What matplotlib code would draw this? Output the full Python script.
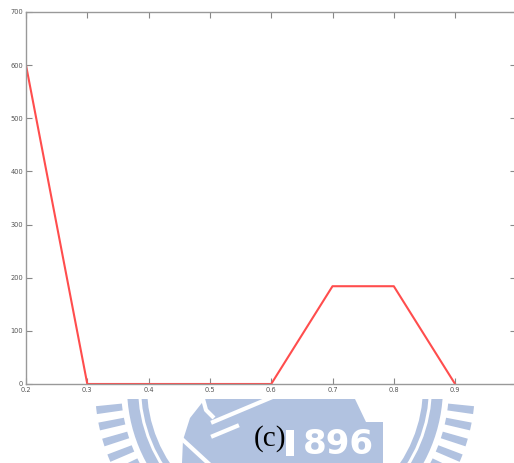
import numpy as np
import matplotlib.pyplot as plt
from matplotlib.patches import Rectangle, Wedge, Polygon

# data
x = [0.2, 0.3, 0.4, 0.5, 0.6, 0.7, 0.8, 0.9]
y = [600, 0, 0, 0, 0, 184, 184, 0]
xticks = [0.2, 0.3, 0.4, 0.5, 0.6, 0.7, 0.8, 0.9, 1.0]
xticklabels = ['0.2', '0.3', '0.4', '0.5', '0.6', '0.7', '0.8', '0.9', '']
yticks = [0, 100, 200, 300, 400, 500, 600, 700]

W, H = 514, 463
fig = plt.figure(figsize=(W / 100, H / 100), dpi=100)

# page watermark, pixel coords (y downwards)
bg = fig.add_axes([0, 0, 1, 1])
bg.set_xlim(0, W)
bg.set_ylim(H, 0)
bg.axis('off')
blue = '#b1c2e0'
cx, cy = 285, 387
bg.add_patch(Wedge((cx, cy), 158, 0, 180, width=11, color=blue, lw=0))
bg.add_patch(Wedge((cx, cy), 144, 0, 180, width=6, color=blue, lw=0))
for a in [153, 158, 163, 168, 173]:
    bg.add_patch(Wedge((cx, cy), 190, a - 1.2, a + 1.2, width=26, color=blue, lw=0))
    bg.add_patch(Wedge((cx, cy), 190, 180 - a - 1.2, 180 - a + 1.2, width=26, color=blue, lw=0))
bg.add_patch(Polygon([[182, 463], [183, 440], [190, 418], [205, 399], [355, 399],
                      [366, 422], [237, 422], [237, 463]], color=blue, lw=0))
bg.plot([203, 206, 214], [399, 410, 418], color='white', lw=3, solid_capstyle='butt')
bg.plot([213, 282], [422, 393], color='white', lw=3)
bg.plot([183, 208], [440, 463], color='white', lw=3)
bg.plot([213, 237], [436, 426], color='white', lw=3)
bg.add_patch(Rectangle((237, 422), 146, 41, color=blue, lw=0))
bg.add_patch(Rectangle((0, 0), W, 399, color='white', lw=0, zorder=5))
# the "1" of 1896 sits mostly behind the caption
bg.add_patch(Rectangle((286, 430), 8, 26, color='white', lw=0))
bg.text(338, 444, '896', color='white', fontsize=24.5, fontweight='bold',
        ha='center', va='center', family='DejaVu Sans')
bg.text(270, 439, '(c)', color='black', fontsize=21, ha='center', va='center',
        family='Liberation Serif', zorder=6,
        bbox=dict(boxstyle='square,pad=0', fc='none', ec='none'))

ax = fig.add_axes([26 / W, (H - 384) / H, 490.4 / W, 372 / H])
ax.patch.set_color('white')
ax.plot(x, y, color='#ff4d4d', lw=1.5)
ax.set_xlim(0.2, 1.0)
ax.set_ylim(0, 700)
ax.set_xticks(xticks)
ax.set_xticklabels(xticklabels)
ax.set_yticks(yticks)
ax.tick_params(direction='in', length=4, width=0.8, colors='#888888',
               labelsize=4.8, labelcolor='#555555', top=True, right=True, pad=2)
for s in ax.spines.values():
    s.set_color('#999999')
    s.set_linewidth(1.0)

fig.savefig('out.png', dpi=100, facecolor='white')
